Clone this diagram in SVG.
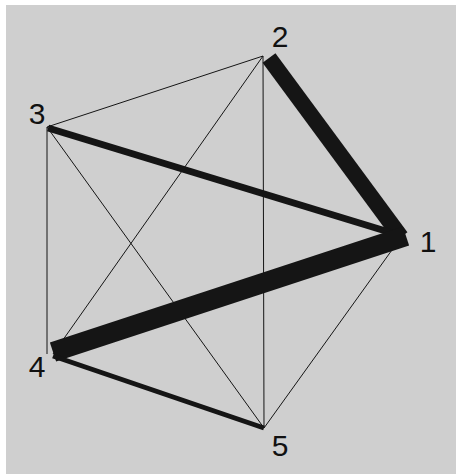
<svg xmlns="http://www.w3.org/2000/svg" width="456" height="474" viewBox="0 0 456 474">
<style>
.e{stroke:#151515;fill:none;stroke-linecap:butt}
.t{stroke-width:1}
.lbl{font-family:"Liberation Sans",Arial,sans-serif;font-size:30px;fill:#111;text-anchor:middle}
</style>
<rect x="0" y="0" width="456" height="474" fill="#ffffff"/>
<rect x="6" y="5" width="450" height="469" fill="#cfcfcf"/>
<g id="connectors">
<line class="e t" x1="263" y1="56" x2="47" y2="127"/>
<line class="e t" x1="263" y1="56" x2="53" y2="354"/>
<line class="e t" x1="263" y1="56" x2="264" y2="428"/>
<line class="e t" x1="47" y1="127" x2="47" y2="354"/>
<line class="e t" x1="47" y1="127" x2="264" y2="428"/>
<line class="e t" x1="402" y1="236" x2="264" y2="428"/>
<line class="e" stroke-width="16" x1="401" y1="237" x2="269" y2="58"/>
<line class="e" stroke-width="7" x1="402" y1="236" x2="48" y2="128"/>
<line class="e" stroke-width="20" x1="406" y1="236" x2="53" y2="352"/>
<line class="e" stroke-width="5" x1="53" y1="356" x2="264" y2="428"/>
</g>
<g id="node1"><text class="lbl" x="428" y="252">1</text></g>
<g id="node2"><text class="lbl" x="280" y="47">2</text></g>
<g id="node3"><text class="lbl" x="37" y="124">3</text></g>
<g id="node4"><text class="lbl" x="37" y="377">4</text></g>
<g id="node5"><text class="lbl" x="280" y="456">5</text></g>
</svg>
